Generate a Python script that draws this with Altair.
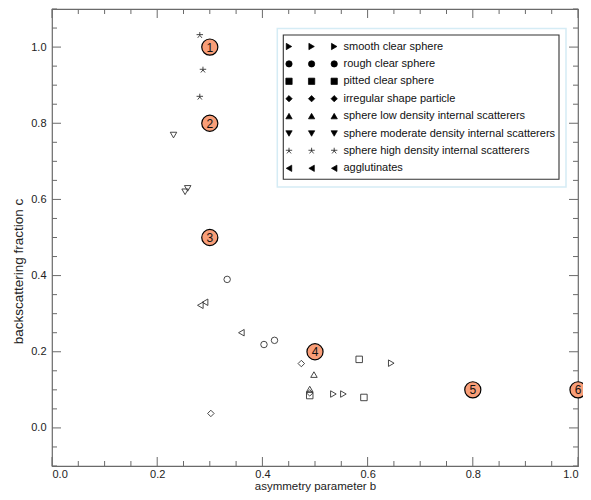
import altair as alt
import numpy as np
import pandas as pd

# ---------------- data ----------------
categories = [
    "smooth clear sphere",
    "rough clear sphere",
    "pitted clear sphere",
    "irregular shape particle",
    "sphere low density internal scatterers",
    "sphere moderate density internal scatterers",
    "sphere high density internal scatterers",
    "agglutinates",
]
STAR = "M0,-1L0,0M-1,-0.2L1,-0.2M0,0L-0.65,0.8M0,0L0.65,0.8"
shapes = ["triangle-right", "circle", "square", "diamond",
          "triangle-up", "triangle-down", STAR, "triangle-left"]

smooth_b = [0.535, 0.554, 0.645]
smooth_c = [0.089, 0.089, 0.170]
rough_b = [0.333, 0.403, 0.423]
rough_c = [0.390, 0.219, 0.230]
pitted_b = [0.584, 0.593, 0.490]
pitted_c = [0.180, 0.080, 0.085]
irregular_b = [0.474, 0.302, 0.490]
irregular_c = [0.169, 0.038, 0.092]
low_b = [0.498, 0.490]
low_c = [0.140, 0.102]
moderate_b = [0.231, 0.253, 0.258]
moderate_c = [0.769, 0.620, 0.629]
high_b = [0.281, 0.287, 0.281]
high_c = [1.031, 0.940, 0.869]
agglut_b = [0.282, 0.291, 0.360]
agglut_c = [0.322, 0.330, 0.250]

series_b = [smooth_b, rough_b, pitted_b, irregular_b, low_b, moderate_b, high_b, agglut_b]
series_c = [smooth_c, rough_c, pitted_c, irregular_c, low_c, moderate_c, high_c, agglut_c]

num_labels = ["1", "2", "3", "4", "5", "6"]
num_b = [0.3, 0.3, 0.3, 0.5, 0.8, 1.0]
num_c = [1.0, 0.8, 0.5, 0.2, 0.1, 0.1]

x_major = [0.0, 0.2, 0.4, 0.6, 0.8, 1.0]
y_major = [0.0, 0.2, 0.4, 0.6, 0.8, 1.0]

# ---------------- layout ----------------
W, H = 526, 457
XD = [0.0, 1.0]
YD = [-0.1, 1.1]
AX = "#6a6a6a"
FONT = "Liberation Sans"

def px2b(px):
    return XD[0] + px / W * (XD[1] - XD[0])

def py2c(py):
    return YD[1] - py / H * (YD[1] - YD[0])

xs = alt.Scale(domain=XD, nice=False, zero=False)
ys = alt.Scale(domain=YD, nice=False, zero=False)
shape_scale = alt.Scale(domain=categories, range=shapes)

x_axis = alt.Axis(values=x_major, format=".1f", ticks=False, domain=False, grid=False,
                  title="asymmetry parameter b", labelPadding=2, titlePadding=1)
y_axis = alt.Axis(values=y_major, format=".1f", ticks=False, domain=False, grid=False,
                  title="backscattering fraction c", labelPadding=6, titlePadding=5,
                  titleY=262, titleFontSize=13.5)

x_minor = [v for v in np.round(np.arange(0, 1.0001, 0.05), 2) if v not in x_major]
y_minor = [v for v in np.round(np.arange(-0.1, 1.1001, 0.05), 2) if v not in y_major]

rows = []
for cat, bs, cs in zip(categories, series_b, series_c):
    for b, c in zip(bs, cs):
        rows.append({"category": cat, "b": b, "c": c})
pts = pd.DataFrame(rows)


def X(field="b"):
    return alt.X(f"{field}:Q", scale=xs, axis=x_axis)


def Y(field="c"):
    return alt.Y(f"{field}:Q", scale=ys, axis=y_axis)


def tick_layer(vals, length, side):
    df = pd.DataFrame({"v": vals})
    vert = side in ("bottom", "top")
    m = alt.Chart(df).mark_tick(orient="vertical" if vert else "horizontal",
                                size=length, thickness=1, color=AX, opacity=1)
    if side == "bottom":
        return m.encode(x=X("v"), y=alt.value(H - length / 2))
    if side == "top":
        return m.encode(x=X("v"), y=alt.value(length / 2))
    if side == "left":
        return m.encode(y=Y("v"), x=alt.value(length / 2))
    return m.encode(y=Y("v"), x=alt.value(W - length / 2))


points = alt.Chart(pts).mark_point(filled=False, size=42, color="#333333",
                                   strokeWidth=0.9, opacity=1).encode(
    x=X(), y=Y(),
    shape=alt.Shape("category:N", scale=shape_scale, legend=None),
)

tick_layers = []
for side in ("bottom", "top"):
    tick_layers.append(tick_layer(x_major, 9, side))
    tick_layers.append(tick_layer(x_minor, 5, side))
for side in ("left", "right"):
    tick_layers.append(tick_layer(y_major, 9, side))
    tick_layers.append(tick_layer(y_minor, 5, side))

nums = pd.DataFrame({"label": num_labels, "b": num_b, "c": num_c})
num_circles = alt.Chart(nums).mark_circle(size=260, color="#F99E78", stroke="black",
                                          strokeWidth=1.2, opacity=1).encode(x=X(), y=Y())
num_text = alt.Chart(nums).mark_text(fontSize=12, font=FONT, color="#111111",
                                     baseline="middle", align="center", dy=0.5).encode(
    x=X(), y=Y(), text="label:N")

# legend (drawn by hand so each entry shows three symbols)
box_df = pd.DataFrame({
    "x1": [px2b(225.3), px2b(231.3)], "x2": [px2b(514.0), px2b(507.0)],
    "y1": [py2c(19.5), py2c(26.0)], "y2": [py2c(178.0), py2c(170.3)],
})
outer_box = alt.Chart(box_df.iloc[[0]]).mark_rect(fill="white", stroke="#d5ecf5",
                                                  strokeWidth=1.5).encode(
    x=X("x1"), x2="x2:Q", y=Y("y1"), y2="y2:Q")
inner_box = alt.Chart(box_df.iloc[[1]]).mark_rect(fill="white", stroke="#333333",
                                                  strokeWidth=1.1).encode(
    x=X("x1"), x2="x2:Q", y=Y("y1"), y2="y2:Q")

leg_rows = []
leg_txt = []
for i, cat in enumerate(categories):
    py = 37.5 + 17.4 * i
    for j in range(3):
        leg_rows.append({"category": cat, "b": px2b(237 + 22.6 * j), "c": py2c(py)})
    leg_txt.append({"category": cat, "b": px2b(291.5), "c": py2c(py)})
leg_pts = alt.Chart(pd.DataFrame(leg_rows)).mark_point(
    filled=True, size=40, color="black", stroke="black", strokeWidth=0.7, opacity=1).encode(
    x=X(), y=Y(),
    shape=alt.Shape("category:N", scale=shape_scale, legend=None))
leg_labels = alt.Chart(pd.DataFrame(leg_txt)).mark_text(
    fontSize=11, font=FONT, color="#111111", align="left", baseline="middle").encode(
    x=X(), y=Y(), text="category:N")

chart = alt.layer(
    points, *tick_layers, num_circles, num_text, outer_box, inner_box, leg_pts, leg_labels
).properties(
    width=W, height=H,
    autosize=alt.AutoSizeParams(type="none"),
    padding={"left": 44, "top": 1, "right": 5, "bottom": 26},
).configure_view(
    stroke=AX, strokeWidth=1.2
).configure_axis(
    labelFont=FONT, titleFont=FONT, labelFontSize=11, titleFontSize=11.5,
    labelColor="#222222", titleColor="#222222", titleFontWeight="normal",
)

chart.save("out.html", embed_options={"renderer": "svg", "actions": False})
